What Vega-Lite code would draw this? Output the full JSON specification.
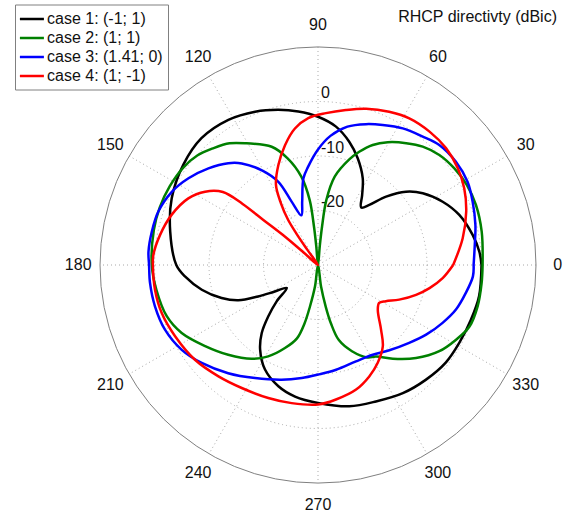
{
"$schema": "https://vega.github.io/schema/vega-lite/v6.json",
"width": 577, "height": 513, "padding": 0, "autosize": {"type": "none"},
"background": "white",
"config": {"view": {"stroke": null}, "font": "Liberation Sans", "text": {"font": "Liberation Sans"}},
"datasets": {
"rings": [{"db": 0, "label": "0"}, {"db": -10, "label": "-10"}, {"db": -20, "label": "-20"}],
"outer": [{"db": 10}],
"spokes": [{"deg": 0}, {"deg": 30}, {"deg": 60}, {"deg": 90}, {"deg": 120}, {"deg": 150}, {"deg": 180}, {"deg": 210}, {"deg": 240}, {"deg": 270}, {"deg": 300}, {"deg": 330}],
"curves": [
{"case":"case 1: (-1; 1)","deg":0,"db":0.0},{"case":"case 1: (-1; 1)","deg":4.7,"db":-0.3},{"case":"case 1: (-1; 1)","deg":11,"db":-1.1},{"case":"case 1: (-1; 1)","deg":19.5,"db":-2.5},{"case":"case 1: (-1; 1)","deg":26.9,"db":-4.35},{"case":"case 1: (-1; 1)","deg":34.4,"db":-6.7},{"case":"case 1: (-1; 1)","deg":39.8,"db":-9.0},{"case":"case 1: (-1; 1)","deg":45.1,"db":-12.3},{"case":"case 1: (-1; 1)","deg":49.5,"db":-15.5},{"case":"case 1: (-1; 1)","deg":53.1,"db":-16.8},{"case":"case 1: (-1; 1)","deg":57.8,"db":-14.8},{"case":"case 1: (-1; 1)","deg":62.7,"db":-12.1},{"case":"case 1: (-1; 1)","deg":69.6,"db":-9.1},{"case":"case 1: (-1; 1)","deg":75.7,"db":-6.7},{"case":"case 1: (-1; 1)","deg":82.6,"db":-4.4},{"case":"case 1: (-1; 1)","deg":90,"db":-2.8},{"case":"case 1: (-1; 1)","deg":97.3,"db":-1.6},{"case":"case 1: (-1; 1)","deg":104.4,"db":-0.6},{"case":"case 1: (-1; 1)","deg":112.3,"db":0.4},{"case":"case 1: (-1; 1)","deg":121.7,"db":1.3},{"case":"case 1: (-1; 1)","deg":132.6,"db":1.6},{"case":"case 1: (-1; 1)","deg":143.4,"db":0.8},{"case":"case 1: (-1; 1)","deg":155.5,"db":-0.5},{"case":"case 1: (-1; 1)","deg":167.3,"db":-2.2},{"case":"case 1: (-1; 1)","deg":180,"db":-4.0},{"case":"case 1: (-1; 1)","deg":184.9,"db":-5.5},{"case":"case 1: (-1; 1)","deg":192,"db":-8.2},{"case":"case 1: (-1; 1)","deg":198.9,"db":-11.3},{"case":"case 1: (-1; 1)","deg":203.9,"db":-14.0},{"case":"case 1: (-1; 1)","deg":207.7,"db":-17.6},{"case":"case 1: (-1; 1)","deg":211.5,"db":-20.7},{"case":"case 1: (-1; 1)","deg":216.3,"db":-22.9},{"case":"case 1: (-1; 1)","deg":221.3,"db":-19.9},{"case":"case 1: (-1; 1)","deg":225.9,"db":-16.9},{"case":"case 1: (-1; 1)","deg":230.4,"db":-13.8},{"case":"case 1: (-1; 1)","deg":235.6,"db":-11.2},{"case":"case 1: (-1; 1)","deg":243.1,"db":-8.5},{"case":"case 1: (-1; 1)","deg":251.9,"db":-6.6},{"case":"case 1: (-1; 1)","deg":260.1,"db":-5.5},{"case":"case 1: (-1; 1)","deg":270,"db":-4.7},{"case":"case 1: (-1; 1)","deg":282.5,"db":-3.45},{"case":"case 1: (-1; 1)","deg":293,"db":-2.8},{"case":"case 1: (-1; 1)","deg":303.5,"db":-1.8},{"case":"case 1: (-1; 1)","deg":313.3,"db":-1.1},{"case":"case 1: (-1; 1)","deg":322.6,"db":-0.5},{"case":"case 1: (-1; 1)","deg":331.1,"db":-0.4},{"case":"case 1: (-1; 1)","deg":340.3,"db":-0.2},{"case":"case 1: (-1; 1)","deg":349,"db":0.1},{"case":"case 1: (-1; 1)","deg":360,"db":0.0},
{"case":"case 2: (1; 1)","deg":0,"db":0.2},{"case":"case 2: (1; 1)","deg":11.5,"db":0.65},{"case":"case 2: (1; 1)","deg":20.8,"db":1.0},{"case":"case 2: (1; 1)","deg":28.3,"db":1.0},{"case":"case 2: (1; 1)","deg":35.3,"db":0.66},{"case":"case 2: (1; 1)","deg":42.2,"db":0.05},{"case":"case 2: (1; 1)","deg":48.5,"db":-1.0},{"case":"case 2: (1; 1)","deg":54.1,"db":-2.4},{"case":"case 2: (1; 1)","deg":60.4,"db":-4.1},{"case":"case 2: (1; 1)","deg":65.5,"db":-5.8},{"case":"case 2: (1; 1)","deg":70,"db":-7.9},{"case":"case 2: (1; 1)","deg":73.5,"db":-9.8},{"case":"case 2: (1; 1)","deg":79.3,"db":-13.5},{"case":"case 2: (1; 1)","deg":82.7,"db":-18},{"case":"case 2: (1; 1)","deg":84,"db":-22.9},{"case":"case 2: (1; 1)","deg":84.7,"db":-26.6},{"case":"case 2: (1; 1)","deg":90,"db":-30},{"case":"case 2: (1; 1)","deg":95.3,"db":-26.6},{"case":"case 2: (1; 1)","deg":96,"db":-22.9},{"case":"case 2: (1; 1)","deg":97.3,"db":-18},{"case":"case 2: (1; 1)","deg":100.7,"db":-13.5},{"case":"case 2: (1; 1)","deg":106,"db":-9.6},{"case":"case 2: (1; 1)","deg":111.4,"db":-6.7},{"case":"case 2: (1; 1)","deg":120.5,"db":-4.1},{"case":"case 2: (1; 1)","deg":126,"db":-2.4},{"case":"case 2: (1; 1)","deg":132,"db":-1.2},{"case":"case 2: (1; 1)","deg":137.8,"db":-0.1},{"case":"case 2: (1; 1)","deg":144,"db":0.5},{"case":"case 2: (1; 1)","deg":152,"db":0.8},{"case":"case 2: (1; 1)","deg":160,"db":0.9},{"case":"case 2: (1; 1)","deg":168,"db":0.8},{"case":"case 2: (1; 1)","deg":180,"db":0.5},{"case":"case 2: (1; 1)","deg":188.7,"db":0.0},{"case":"case 2: (1; 1)","deg":198.7,"db":-0.7},{"case":"case 2: (1; 1)","deg":206.5,"db":-2.05},{"case":"case 2: (1; 1)","deg":215.7,"db":-4.5},{"case":"case 2: (1; 1)","deg":225,"db":-6.7},{"case":"case 2: (1; 1)","deg":234.7,"db":-8.9},{"case":"case 2: (1; 1)","deg":241.4,"db":-10.9},{"case":"case 2: (1; 1)","deg":248.3,"db":-13.6},{"case":"case 2: (1; 1)","deg":254,"db":-16},{"case":"case 2: (1; 1)","deg":257,"db":-19},{"case":"case 2: (1; 1)","deg":259,"db":-22.2},{"case":"case 2: (1; 1)","deg":262,"db":-26},{"case":"case 2: (1; 1)","deg":270,"db":-30},{"case":"case 2: (1; 1)","deg":278,"db":-26},{"case":"case 2: (1; 1)","deg":280.5,"db":-22.2},{"case":"case 2: (1; 1)","deg":282.5,"db":-19},{"case":"case 2: (1; 1)","deg":285.5,"db":-15.7},{"case":"case 2: (1; 1)","deg":291.5,"db":-13},{"case":"case 2: (1; 1)","deg":298,"db":-10.8},{"case":"case 2: (1; 1)","deg":302.4,"db":-10.1},{"case":"case 2: (1; 1)","deg":308.6,"db":-8.0},{"case":"case 2: (1; 1)","deg":316.5,"db":-5.2},{"case":"case 2: (1; 1)","deg":324.6,"db":-2.7},{"case":"case 2: (1; 1)","deg":331.6,"db":-1.2},{"case":"case 2: (1; 1)","deg":337.9,"db":0.0},{"case":"case 2: (1; 1)","deg":345.5,"db":0.25},{"case":"case 2: (1; 1)","deg":353.7,"db":0.2},{"case":"case 2: (1; 1)","deg":360,"db":0.2},
{"case":"case 3: (1.41; 0)","deg":0,"db":-1.45},{"case":"case 3: (1.41; 0)","deg":7.3,"db":-1.0},{"case":"case 3: (1.41; 0)","deg":14.3,"db":-0.2},{"case":"case 3: (1.41; 0)","deg":22.3,"db":0.66},{"case":"case 3: (1.41; 0)","deg":29.1,"db":1.4},{"case":"case 3: (1.41; 0)","deg":36.8,"db":1.6},{"case":"case 3: (1.41; 0)","deg":44.7,"db":1.3},{"case":"case 3: (1.41; 0)","deg":50.8,"db":0.4},{"case":"case 3: (1.41; 0)","deg":58.2,"db":-0.5},{"case":"case 3: (1.41; 0)","deg":65.2,"db":-1.7},{"case":"case 3: (1.41; 0)","deg":71.2,"db":-2.7},{"case":"case 3: (1.41; 0)","deg":78,"db":-4.05},{"case":"case 3: (1.41; 0)","deg":84.5,"db":-6.2},{"case":"case 3: (1.41; 0)","deg":90,"db":-8.8},{"case":"case 3: (1.41; 0)","deg":95.8,"db":-11.9},{"case":"case 3: (1.41; 0)","deg":99.6,"db":-13.9},{"case":"case 3: (1.41; 0)","deg":104,"db":-18.0},{"case":"case 3: (1.41; 0)","deg":108.5,"db":-20.4},{"case":"case 3: (1.41; 0)","deg":112.6,"db":-17.4},{"case":"case 3: (1.41; 0)","deg":115.5,"db":-13.1},{"case":"case 3: (1.41; 0)","deg":120.5,"db":-9.9},{"case":"case 3: (1.41; 0)","deg":126.9,"db":-6.7},{"case":"case 3: (1.41; 0)","deg":131.4,"db":-5.1},{"case":"case 3: (1.41; 0)","deg":138.6,"db":-3.2},{"case":"case 3: (1.41; 0)","deg":146.2,"db":-1.4},{"case":"case 3: (1.41; 0)","deg":153.4,"db":0.0},{"case":"case 3: (1.41; 0)","deg":161.5,"db":0.9},{"case":"case 3: (1.41; 0)","deg":168.7,"db":1.1},{"case":"case 3: (1.41; 0)","deg":175.5,"db":1.2},{"case":"case 3: (1.41; 0)","deg":180,"db":1.0},{"case":"case 3: (1.41; 0)","deg":186.1,"db":1.0},{"case":"case 3: (1.41; 0)","deg":194.2,"db":0.86},{"case":"case 3: (1.41; 0)","deg":202.9,"db":0.48},{"case":"case 3: (1.41; 0)","deg":211.9,"db":-0.55},{"case":"case 3: (1.41; 0)","deg":220.1,"db":-2.1},{"case":"case 3: (1.41; 0)","deg":230.3,"db":-4.2},{"case":"case 3: (1.41; 0)","deg":240.9,"db":-6.25},{"case":"case 3: (1.41; 0)","deg":252.4,"db":-7.9},{"case":"case 3: (1.41; 0)","deg":261.8,"db":-9.05},{"case":"case 3: (1.41; 0)","deg":270,"db":-9.9},{"case":"case 3: (1.41; 0)","deg":279.8,"db":-10.5},{"case":"case 3: (1.41; 0)","deg":291.5,"db":-11.0},{"case":"case 3: (1.41; 0)","deg":301.4,"db":-10.7},{"case":"case 3: (1.41; 0)","deg":309.9,"db":-9.6},{"case":"case 3: (1.41; 0)","deg":319.5,"db":-8.0},{"case":"case 3: (1.41; 0)","deg":327.2,"db":-6.4},{"case":"case 3: (1.41; 0)","deg":335.1,"db":-4.8},{"case":"case 3: (1.41; 0)","deg":342.1,"db":-3.4},{"case":"case 3: (1.41; 0)","deg":349.3,"db":-2.4},{"case":"case 3: (1.41; 0)","deg":355.8,"db":-1.5},{"case":"case 3: (1.41; 0)","deg":360,"db":-1.45},
{"case":"case 4: (1; -1)","deg":0,"db":-5.2},{"case":"case 4: (1; -1)","deg":10.5,"db":-3.0},{"case":"case 4: (1; -1)","deg":19.8,"db":-1.1},{"case":"case 4: (1; -1)","deg":27.7,"db":0.3},{"case":"case 4: (1; -1)","deg":34.7,"db":1.2},{"case":"case 4: (1; -1)","deg":42.4,"db":1.8},{"case":"case 4: (1; -1)","deg":50.1,"db":1.9},{"case":"case 4: (1; -1)","deg":58.1,"db":1.7},{"case":"case 4: (1; -1)","deg":65.1,"db":1.0},{"case":"case 4: (1; -1)","deg":72.9,"db":0.0},{"case":"case 4: (1; -1)","deg":79.8,"db":-1.1},{"case":"case 4: (1; -1)","deg":87,"db":-2.1},{"case":"case 4: (1; -1)","deg":93.8,"db":-3.0},{"case":"case 4: (1; -1)","deg":99.6,"db":-4.6},{"case":"case 4: (1; -1)","deg":105.4,"db":-7.2},{"case":"case 4: (1; -1)","deg":111.7,"db":-10.3},{"case":"case 4: (1; -1)","deg":117.7,"db":-13.4},{"case":"case 4: (1; -1)","deg":121,"db":-16.8},{"case":"case 4: (1; -1)","deg":123.5,"db":-20},{"case":"case 4: (1; -1)","deg":124.5,"db":-23},{"case":"case 4: (1; -1)","deg":125,"db":-26.5},{"case":"case 4: (1; -1)","deg":130,"db":-30},{"case":"case 4: (1; -1)","deg":139,"db":-26.5},{"case":"case 4: (1; -1)","deg":139.5,"db":-21.4},{"case":"case 4: (1; -1)","deg":140.5,"db":-17},{"case":"case 4: (1; -1)","deg":141,"db":-12.2},{"case":"case 4: (1; -1)","deg":142.5,"db":-8},{"case":"case 4: (1; -1)","deg":147,"db":-5.3},{"case":"case 4: (1; -1)","deg":152.8,"db":-3.25},{"case":"case 4: (1; -1)","deg":161.1,"db":-1.6},{"case":"case 4: (1; -1)","deg":169.2,"db":-0.5},{"case":"case 4: (1; -1)","deg":176.5,"db":0.27},{"case":"case 4: (1; -1)","deg":180,"db":0.3},{"case":"case 4: (1; -1)","deg":188.6,"db":0.25},{"case":"case 4: (1; -1)","deg":197.1,"db":0.0},{"case":"case 4: (1; -1)","deg":206.5,"db":-0.7},{"case":"case 4: (1; -1)","deg":217.6,"db":-1.5},{"case":"case 4: (1; -1)","deg":228.2,"db":-2.6},{"case":"case 4: (1; -1)","deg":238.2,"db":-3.45},{"case":"case 4: (1; -1)","deg":249.5,"db":-3.95},{"case":"case 4: (1; -1)","deg":259.2,"db":-4.2},{"case":"case 4: (1; -1)","deg":270,"db":-4.4},{"case":"case 4: (1; -1)","deg":277.6,"db":-5.1},{"case":"case 4: (1; -1)","deg":287,"db":-6.1},{"case":"case 4: (1; -1)","deg":294.7,"db":-7.5},{"case":"case 4: (1; -1)","deg":301.3,"db":-8.95},{"case":"case 4: (1; -1)","deg":308.5,"db":-10.9},{"case":"case 4: (1; -1)","deg":314.2,"db":-13.4},{"case":"case 4: (1; -1)","deg":323.2,"db":-16.3},{"case":"case 4: (1; -1)","deg":328.2,"db":-16.8},{"case":"case 4: (1; -1)","deg":331.9,"db":-15.9},{"case":"case 4: (1; -1)","deg":336.9,"db":-13.8},{"case":"case 4: (1; -1)","deg":343.1,"db":-11.2},{"case":"case 4: (1; -1)","deg":348.3,"db":-9.1},{"case":"case 4: (1; -1)","deg":354,"db":-7.0},{"case":"case 4: (1; -1)","deg":360,"db":-5.2}
]
},
"layer": [
{
"data": {"name": "rings"},
"transform": [{"calculate": "datum.db + 30", "as": "r"}],
"mark": {"type": "point", "shape": "circle", "filled": false, "fill": null, "stroke": "#a8a8a8", "strokeWidth": 1, "strokeDash": [1, 3], "opacity": 1},
"encoding": {
"x": {"datum": 0, "type": "quantitative", "scale": {"domain": [-58.35, 47.52], "nice": false, "zero": false}, "axis": null},
"y": {"datum": 0, "type": "quantitative", "scale": {"domain": [-45.5, 48.62], "nice": false, "zero": false}, "axis": null},
"size": {"field": "r", "type": "quantitative", "scale": {"type": "pow", "exponent": 2, "domain": [0, 40], "range": [0, 190096]}, "legend": null}
}
},
{
"data": {"name": "spokes"},
"transform": [
{"filter": "datum.deg < 180"},
{"calculate": "40 * cos(datum.deg * PI / 180)", "as": "xa"},
{"calculate": "40 * sin(datum.deg * PI / 180)", "as": "ya"},
{"calculate": "-40 * cos(datum.deg * PI / 180)", "as": "xb"},
{"calculate": "-40 * sin(datum.deg * PI / 180)", "as": "yb"}
],
"mark": {"type": "rule", "stroke": "#a8a8a8", "strokeWidth": 1, "strokeDash": [1, 3]},
"encoding": {
"x": {"field": "xa", "type": "quantitative"},
"y": {"field": "ya", "type": "quantitative"},
"x2": {"field": "xb"},
"y2": {"field": "yb"}
}
},
{
"data": {"name": "outer"},
"transform": [{"calculate": "datum.db + 30", "as": "r"}],
"mark": {"type": "point", "shape": "circle", "filled": false, "fill": null, "stroke": "#808080", "strokeWidth": 1, "opacity": 1},
"encoding": {
"x": {"datum": 0, "type": "quantitative"},
"y": {"datum": 0, "type": "quantitative"},
"size": {"field": "r", "type": "quantitative", "scale": {"type": "pow", "exponent": 2, "domain": [0, 40], "range": [0, 190096]}, "legend": null}
}
},
{
"data": {"name": "spokes"},
"transform": [
{"calculate": "44 * cos(datum.deg * PI / 180)", "as": "lx"},
{"calculate": "44 * sin(datum.deg * PI / 180)", "as": "ly"}
],
"mark": {"type": "text", "fontSize": 16, "align": "center", "baseline": "middle", "color": "#111111"},
"encoding": {
"x": {"field": "lx", "type": "quantitative"},
"y": {"field": "ly", "type": "quantitative"},
"text": {"field": "deg", "type": "nominal"}
}
},
{
"data": {"name": "rings"},
"transform": [{"calculate": "datum.db + 30", "as": "r"}, {"calculate": "0", "as": "cx"}],
"mark": {"type": "text", "fontSize": 16, "align": "left", "baseline": "middle", "dx": 3, "dy": -8, "color": "#111111"},
"encoding": {
"x": {"field": "cx", "type": "quantitative"},
"y": {"field": "r", "type": "quantitative"},
"text": {"field": "label", "type": "nominal"}
}
},
{
"data": {"name": "curves"},
"transform": [
{"window": [{"op": "row_number", "as": "i"}]},
{"calculate": "max(datum.db + 30, 0) * cos(datum.deg * PI / 180)", "as": "px"},
{"calculate": "max(datum.db + 30, 0) * sin(datum.deg * PI / 180)", "as": "py"}
],
"mark": {"type": "line", "strokeWidth": 2.5, "interpolate": "catmull-rom", "strokeJoin": "round"},
"encoding": {
"x": {"field": "px", "type": "quantitative"},
"y": {"field": "py", "type": "quantitative"},
"order": {"field": "i", "type": "quantitative"},
"color": {"field": "case", "type": "nominal",
"scale": {"domain": ["case 1: (-1; 1)", "case 2: (1; 1)", "case 3: (1.41; 0)", "case 4: (1; -1)"], "range": ["#000000", "#008000", "#0000ff", "#ff0000"]},
"legend": {"title": null, "orient": "none", "legendX": 15, "legendY": 4.5, "symbolType": "M-1.2,0H1.8", "symbolSize": 256, "symbolStrokeWidth": 2.5, "labelFontSize": 16, "labelFont": "Liberation Sans", "labelColor": "#111111", "labelOffset": 8, "rowPadding": 1, "padding": 5, "strokeColor": "#808080", "fillColor": "white", "labelLimit": 300}
}
}
},
{
"data": {"values": [{"t": "RHCP directivty (dBic)", "tx": 43.85, "ty": 45.5}]},
"mark": {"type": "text", "fontSize": 16, "align": "right", "baseline": "middle", "color": "#111111"},
"encoding": {
"x": {"field": "tx", "type": "quantitative"},
"y": {"field": "ty", "type": "quantitative"},
"text": {"field": "t", "type": "nominal"}
}
}
]
}
